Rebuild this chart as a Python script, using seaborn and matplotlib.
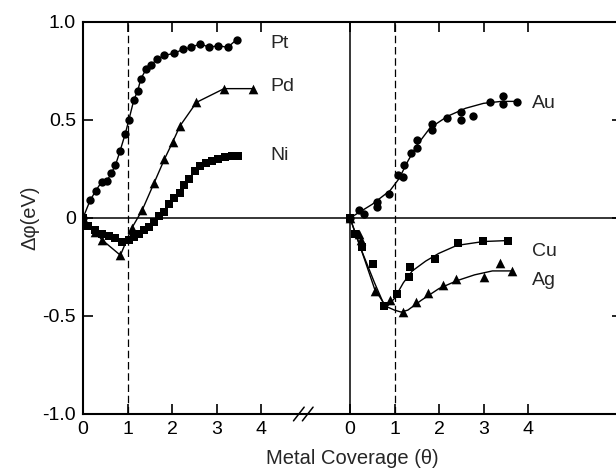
import matplotlib
matplotlib.use("Agg")
import matplotlib.pyplot as plt
import seaborn as sns
import pandas as pd

# offset used to place the second group of metals on the same axis
OFFSET = 6

# left group: Pt, Pd, Ni
pt_x = [0, 0.16, 0.29, 0.42, 0.54, 0.64, 0.73, 0.83, 0.95, 1.03, 1.14, 1.23, 1.30,
        1.42, 1.52, 1.67, 1.83, 2.05, 2.24, 2.43, 2.64, 2.83, 3.04, 3.25, 3.45]
pt_y = [0, 0.09, 0.14, 0.185, 0.19, 0.23, 0.27, 0.34, 0.43, 0.50, 0.60, 0.65, 0.71,
        0.76, 0.78, 0.81, 0.83, 0.84, 0.86, 0.87, 0.89, 0.87, 0.88, 0.87, 0.91]

pd_x = [0, 0.27, 0.42, 0.84, 1.1, 1.33, 1.60, 1.83, 2.02, 2.18, 2.55, 3.17, 3.81]
pd_y = [0, -0.07, -0.11, -0.19, -0.05, 0.04, 0.18, 0.30, 0.39, 0.47, 0.59, 0.66, 0.66]

ni_x = [0, 0.12, 0.27, 0.42, 0.58, 0.73, 0.88, 1.03, 1.14, 1.26, 1.37, 1.48, 1.60, 1.71,
        1.83, 1.94, 2.05, 2.17, 2.28, 2.39, 2.51, 2.64, 2.77, 2.89, 3.04, 3.19, 3.34, 3.49]
ni_y = [0, -0.04, -0.06, -0.08, -0.09, -0.10, -0.12, -0.11, -0.095, -0.08, -0.06, -0.045,
        -0.02, 0.01, 0.03, 0.07, 0.10, 0.13, 0.17, 0.20, 0.24, 0.265, 0.28, 0.29, 0.30,
        0.31, 0.315, 0.315]

# right group: Au, Cu, Ag (measured points)
au_x = [0, 0.21, 0.31, 0.61, 0.61, 0.88, 1.07, 1.18, 1.22, 1.36, 1.51, 1.51, 1.84, 1.84,
        2.17, 2.49, 2.49, 2.77, 3.15, 3.43, 3.43, 3.75]
au_y = [0, 0.04, 0.02, 0.083, 0.056, 0.12, 0.22, 0.21, 0.27, 0.33, 0.40, 0.355, 0.48, 0.45,
        0.51, 0.54, 0.50, 0.52, 0.59, 0.62, 0.58, 0.59]

cu_x = [0, 0.11, 0.28, 0.51, 0.77, 1.06, 1.33, 1.35, 1.92, 2.42, 2.98, 3.56]
cu_y = [0, -0.08, -0.15, -0.235, -0.45, -0.39, -0.30, -0.25, -0.21, -0.13, -0.116, -0.116]

ag_x = [0, 0.21, 0.25, 0.56, 0.91, 1.18, 1.48, 1.76, 2.1, 2.38, 3.0, 3.37, 3.65]
ag_y = [0, -0.08, -0.11, -0.37, -0.42, -0.48, -0.43, -0.385, -0.34, -0.31, -0.30, -0.23, -0.27]

# fitted curves drawn through the right group
au_fit_x = [0, 0.5, 0.9, 1.1, 1.3, 1.5, 1.8, 2.2, 2.6, 3.0, 3.4, 3.75]
au_fit_y = [0, 0.07, 0.14, 0.2, 0.29, 0.37, 0.46, 0.52, 0.56, 0.585, 0.595, 0.595]

cu_fit_x = [0, 0.25, 0.55, 0.8, 1.0, 1.2, 1.4, 1.7, 2.0, 2.4, 3.0, 3.55]
cu_fit_y = [0, -0.16, -0.33, -0.46, -0.41, -0.33, -0.27, -0.22, -0.18, -0.14, -0.12, -0.115]

ag_fit_x = [0, 0.25, 0.55, 0.8, 1.0, 1.15, 1.3, 1.6, 2.0, 2.4, 2.8, 3.2, 3.65]
ag_fit_y = [0, -0.16, -0.36, -0.45, -0.47, -0.48, -0.47, -0.42, -0.36, -0.32, -0.29, -0.27, -0.27]

x_ticks = [0, 1, 2, 3, 4, 0, 1, 2, 3, 4]
y_ticks = [-1.0, -0.5, 0, 0.5, 1.0]
y_tick_labels = ["-1.0", "-0.5", "0", "0.5", "1.0"]

sns.set_style("ticks")
plt.rcParams['font.family'] = ['Liberation Sans', 'DejaVu Sans']

fig = plt.figure(figsize=(6.16, 4.76), dpi=100)
W, H = 616, 476
# right spine sits just beyond the picture edge
ax = fig.add_axes([83 / W, 62 / H, (622 - 83) / W, (414 - 22) / H])

lw = 1.0
def serie(x, y, marker, ms, line=True, offset=0):
    df = pd.DataFrame({"x": [v + offset for v in x], "y": y})
    if line:
        sns.lineplot(data=df, x="x", y="y", ax=ax, color="black", lw=lw,
                     sort=False, estimator=None, zorder=3)
    sns.scatterplot(data=df, x="x", y="y", ax=ax, color="black", marker=marker,
                    s=ms, edgecolor="black", linewidth=0, zorder=4)

serie(pt_x, pt_y, "o", 36)
serie(pd_x, pd_y, "^", 48)
serie(ni_x, ni_y, "s", 30)

serie(au_x, au_y, "o", 36, line=False, offset=OFFSET)
serie(cu_x, cu_y, "s", 30, line=False, offset=OFFSET)
serie(ag_x, ag_y, "^", 48, line=False, offset=OFFSET)
for fx, fy in [(au_fit_x, au_fit_y), (cu_fit_x, cu_fit_y), (ag_fit_x, ag_fit_y)]:
    sns.lineplot(x=[v + OFFSET for v in fx], y=fy, ax=ax, color="black", lw=lw,
                 sort=False, estimator=None, zorder=3)

# reference lines
ax.axhline(0, color="black", lw=1.1, zorder=2)
ax.axvline(OFFSET, color="black", lw=1.1, zorder=2)
ax.axvline(1, color="black", lw=0.9, ls=(0, (6, 3)), zorder=2)
ax.axvline(1 + OFFSET, color="black", lw=0.9, ls=(0, (6, 3)), zorder=2)

# labels of the curves
fs = 14
ax.text(4.22, 0.89, "Pt", fontsize=fs, va="center")
ax.text(4.22, 0.67, "Pd", fontsize=fs, va="center")
ax.text(4.22, 0.32, "Ni", fontsize=fs, va="center")
ax.text(10.1, 0.585, "Au", fontsize=fs, va="center")
ax.text(10.1, -0.17, "Cu", fontsize=fs, va="center")
ax.text(10.1, -0.32, "Ag", fontsize=fs, va="center")

ax.set_xlim(0, (622 - 83) / 44.5)
ax.set_ylim(-1.0, 1.0)
ax.set_xticks([0, 1, 2, 3, 4, 6, 7, 8, 9, 10])
ax.set_xticklabels(x_ticks)
ax.set_yticks(y_ticks)
ax.set_yticklabels(y_tick_labels)
ax.tick_params(direction="in", length=7, width=1.2, top=True, right=True,
               labelsize=fs, pad=5, color="black", labelcolor="black")
for s in ax.spines.values():
    s.set_visible(True)
    s.set_linewidth(1.5)
    s.set_color("black")

# axis break mark
for dx in (-0.1, 0.1):
    ax.plot([4.95 + dx - 0.12, 4.95 + dx + 0.12], [-1.035, -0.965], color="black",
            lw=1.1, clip_on=False, zorder=5)

ax.set_xlabel("Metal Coverage (θ)", fontsize=fs + 0.5, labelpad=8)
ax.set_ylabel("Δφ(eV)", fontsize=fs + 0.5, labelpad=2)

fig.savefig("out.png", dpi=100, facecolor="white")
